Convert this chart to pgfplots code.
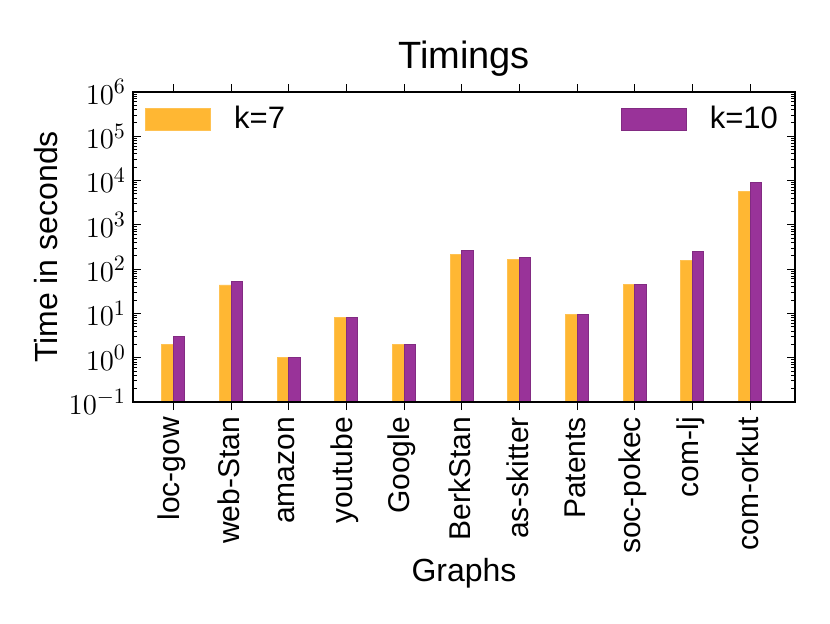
\documentclass[border=0pt]{standalone}
\usepackage{fontspec}
\setmainfont{Liberation Sans}
\usepackage{pgfplots}
\pgfplotsset{compat=1.18}
\definecolor{kseven}{HTML}{FFB733}
\definecolor{kten}{HTML}{993399}
\begin{document}
\begin{tikzpicture}
\useasboundingbox (-66.5pt,-110.5pt) rectangle (348.5pt,201pt);
\begin{axis}[
  at={(0pt,0pt)}, anchor=south west,
  width=331pt, height=155pt, scale only axis,
  ymode=log, log origin=infty,
  ymin=0.1, ymax=1e6,
  xmin=-0.7, xmax=10.78,
  ybar, bar width=0.2,
  axis on top,
  axis line style={line width=0.6pt},
  every tick/.style={black, line width=0.5pt},
  major tick length=4pt, minor tick length=2pt,
  xtick={0,...,10},
  xticklabels={loc-gow,web-Stan,amazon,youtube,Google,BerkStan,as-skitter,Patents,soc-pokec,com-lj,com-orkut},
  xticklabel style={rotate=90, anchor=east, font=\fontsize{15}{18}\selectfont, yshift=1pt},
  ytick={1e-1,1,10,100,1e3,1e4,1e5,1e6},
  yticklabel style={font=\fontsize{15.5}{18}\selectfont},
  xlabel={Graphs},
  xlabel style={at={(axis description cs:0.5,-0.5516)}, anchor=center, font=\fontsize{16}{19}\selectfont},
  ylabel={Time in seconds},
  ylabel style={at={(axis description cs:-0.1314,0.5)}, anchor=center, font=\fontsize{16}{19}\selectfont},
  title={Timings},
  title style={at={(axis description cs:0.5,1.07)}, anchor=center, font=\fontsize{19}{22}\selectfont},
  legend columns=2,
  legend style={at={(axis description cs:0,1)}, anchor=north west, xshift=3pt, yshift=-3pt,
    draw=none, fill=none, font=\fontsize{15.5}{18}\selectfont,
    /tikz/every even column/.append style={column sep=166pt}},
  legend image code/.code={\draw[#1] (0pt,-5.5pt) rectangle (32.5pt,5.5pt); \path (42pt,0pt);},
]
\addplot[fill=kseven, draw=kseven!85!white, bar shift=-0.1] coordinates {
  (0,2) (1,44) (2,1) (3,8.2) (4,2) (5,218) (6,168) (7,9.3) (8,46) (9,157) (10,5650)};
\addlegendentry{k=7}
\addplot[fill=kten, draw=kten!85!black, bar shift=0.1] coordinates {
  (0,3.05) (1,52) (2,1) (3,8.2) (4,2) (5,268) (6,183) (7,9.3) (8,46) (9,255) (10,9170)};
\addlegendentry{k=10}
\end{axis}
\end{tikzpicture}
\end{document}
